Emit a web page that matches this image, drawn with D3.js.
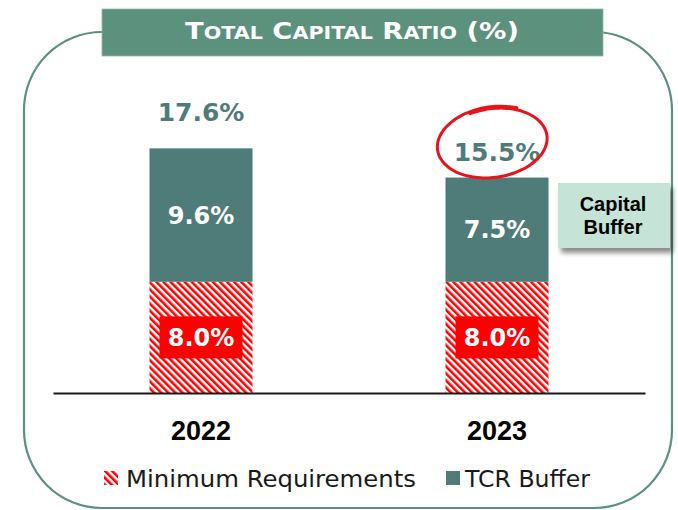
<!DOCTYPE html>
<html>
<head>
<meta charset="utf-8">
<script src="https://cdn.jsdelivr.net/npm/d3@7/dist/d3.min.js"></script>
<style>
  html, body { margin: 0; padding: 0; background: #ffffff; }
  svg { display: block; }
</style>
</head>
<body>
<svg id="chart" width="678" height="510"></svg>
<script>
// Total capital ratio by year, split into minimum requirement and TCR buffer
const years = ["2022", "2023"];
const minRequirement = [8.0, 8.0];
const tcrBuffer = [9.6, 7.5];
const totalRatio = [17.6, 15.5];
const legendLabels = ["Minimum Requirements", "TCR Buffer"];
const titleParts = [["T", "OTAL"], ["C", "APITAL"], ["R", "ATIO"], ["(%)", ""]];

const TEAL = "#4f7c78";
const FRAME = "#5b917d";
const RED = "#ff0000";
const LABEL_FONT = "'DejaVu Sans', sans-serif";

const svg = d3.select("#chart");
const defs = svg.append("defs");

// diagonal red hatch
const hatch = defs.append("pattern")
  .attr("id", "hatch")
  .attr("patternUnits", "userSpaceOnUse")
  .attr("width", 5).attr("height", 5)
  .attr("patternTransform", "rotate(-45)");
hatch.append("rect").attr("width", 5).attr("height", 5).attr("fill", "#ffffff");
hatch.append("rect").attr("width", 2.6).attr("height", 5).attr("fill", RED);

const shadow = defs.append("filter").attr("id", "shadow")
  .attr("x", "-20%").attr("y", "-20%").attr("width", "150%").attr("height", "160%");
shadow.append("feDropShadow")
  .attr("dx", 3).attr("dy", 5).attr("stdDeviation", 2.5)
  .attr("flood-color", "#000").attr("flood-opacity", 0.45);

// rounded frame
svg.append("rect")
  .attr("x", 24).attr("y", 32).attr("width", 648).attr("height", 476)
  .attr("rx", 78).attr("ry", 78)
  .attr("fill", "none").attr("stroke", FRAME).attr("stroke-width", 2.2);

// title banner
svg.append("rect")
  .attr("x", 102).attr("y", 9).attr("width", 501).attr("height", 47)
  .attr("fill", FRAME).attr("stroke", "#8fb9a8").attr("stroke-width", 0.8);

const title = svg.append("text")
  .attr("x", 185).attr("y", 39)
  .attr("font-family", LABEL_FONT).attr("font-weight", "bold")
  .attr("fill", "#ffffff")
  .attr("textLength", 334).attr("lengthAdjust", "spacingAndGlyphs");
titleParts.forEach((p, i) => {
  title.append("tspan").attr("font-size", 22.5).text((i > 0 ? " " : "") + p[0]);
  if (p[1]) title.append("tspan").attr("font-size", 17).text(p[1]);
});

// scales
const x = d3.scaleBand().domain(years).range([53, 645])
  .paddingInner(0.652).paddingOuter(0.326);
const y = d3.scaleLinear().domain([0, 20]).range([393, 115]);

const rows = years.map((yr, i) => ({ year: yr, min: minRequirement[i], buffer: tcrBuffer[i], total: totalRatio[i] }));
const stacked = d3.stack().keys(["min", "buffer"])(rows);
const fills = { min: "url(#hatch)", buffer: TEAL };

const bars = svg.append("g");
stacked.forEach(layer => {
  bars.selectAll(null).data(layer).join("rect")
    .attr("x", d => x(d.data.year))
    .attr("y", d => y(d[1]))
    .attr("width", x.bandwidth())
    .attr("height", d => y(d[0]) - y(d[1]))
    .attr("fill", fills[layer.key]);
});

// minimum requirement labels on red plates
stacked[0].forEach(d => {
  const cx = x(d.data.year) + x.bandwidth() / 2;
  const cy = (y(d[0]) + y(d[1])) / 2;
  svg.append("rect")
    .attr("x", cx - 41.5).attr("y", cy - 21).attr("width", 83).attr("height", 42)
    .attr("fill", RED);
  svg.append("text")
    .attr("x", cx).attr("y", cy).attr("dy", "0.36em")
    .attr("text-anchor", "middle")
    .attr("font-family", LABEL_FONT).attr("font-weight", "bold").attr("font-size", 24)
    .attr("fill", "#ffffff")
    .text(d.data.min.toFixed(1) + "%");
});

// buffer labels
stacked[1].forEach(d => {
  const cx = x(d.data.year) + x.bandwidth() / 2;
  const cy = (y(d[0]) + y(d[1])) / 2;
  svg.append("text")
    .attr("x", cx).attr("y", cy).attr("dy", "0.36em")
    .attr("text-anchor", "middle")
    .attr("font-family", LABEL_FONT).attr("font-weight", "bold").attr("font-size", 24)
    .attr("fill", "#ffffff")
    .text(d.data.buffer.toFixed(1) + "%");
});

// total labels above bars
rows.forEach((d, i) => {
  const cx = x(d.year) + x.bandwidth() / 2;
  const gap = i === 0 ? 27 : 17;
  svg.append("text")
    .attr("x", cx).attr("y", y(d.total) - gap)
    .attr("text-anchor", "middle")
    .attr("font-family", LABEL_FONT).attr("font-weight", "bold").attr("font-size", 25)
    .attr("fill", TEAL)
    .text(d.total.toFixed(1) + "%");
});

// axis
const axis = svg.append("g")
  .attr("transform", `translate(0,${y(0)})`)
  .call(d3.axisBottom(x).tickSize(0).tickPadding(28));
axis.select(".domain").attr("stroke", "#1a1a1a").attr("stroke-width", 2);
axis.selectAll(".tick text")
  .attr("font-family", "'Liberation Sans', Arial, sans-serif")
  .attr("font-weight", "bold").attr("font-size", 27)
  .attr("fill", "#000");

// hand-drawn ring around the latest total
{
  const last = rows[rows.length - 1];
  const cx = x(last.year) + x.bandwidth() / 2 - 4;
  const cy = y(last.total) - 35;
  const rx = 57, ry = 36, tilt = -8 * Math.PI / 180;
  const pts = d3.range(0, 77).map(k => {
    const t = -60 - k * 5.4;          // degrees, running counter-clockwise
    const a = t * Math.PI / 180;
    const s = 1 - k * 0.0008;
    const px = rx * s * Math.cos(a), py = ry * s * Math.sin(a);
    return [cx + px * Math.cos(tilt) - py * Math.sin(tilt), cy + px * Math.sin(tilt) + py * Math.cos(tilt)];
  });
  svg.append("path")
    .attr("d", d3.line().curve(d3.curveBasis)(pts))
    .attr("fill", "none").attr("stroke", "#e8141c")
    .attr("stroke-width", 3).attr("stroke-linecap", "round");
}

// callout box
svg.append("rect")
  .attr("x", 558).attr("y", 183).attr("width", 112).attr("height", 65)
  .attr("fill", "#c5e3d6").attr("filter", "url(#shadow)");
const callout = svg.append("text")
  .attr("text-anchor", "middle")
  .attr("font-family", "'Liberation Sans', Arial, sans-serif")
  .attr("font-weight", "bold").attr("font-size", 20).attr("fill", "#000");
callout.append("tspan").attr("x", 613).attr("y", 211).text("Capital");
callout.append("tspan").attr("x", 613).attr("y", 234).text("Buffer");

// legend
const legend = svg.append("g");
const legendItems = [
  { label: legendLabels[0], fill: "url(#hatch)", sx: 104, tx: 126, tw: 290 },
  { label: legendLabels[1], fill: TEAL, sx: 446, tx: 465, tw: 125 }
];
legendItems.forEach(it => {
  legend.append("rect")
    .attr("x", it.sx).attr("y", 471).attr("width", 14).attr("height", 14)
    .attr("fill", it.fill);
  legend.append("text")
    .attr("x", it.tx).attr("y", 487)
    .attr("font-family", LABEL_FONT).attr("font-size", 22.5).attr("fill", "#1a1a1a")
    .attr("textLength", it.tw).attr("lengthAdjust", "spacingAndGlyphs")
    .text(it.label);
});
</script>
</body>
</html>
